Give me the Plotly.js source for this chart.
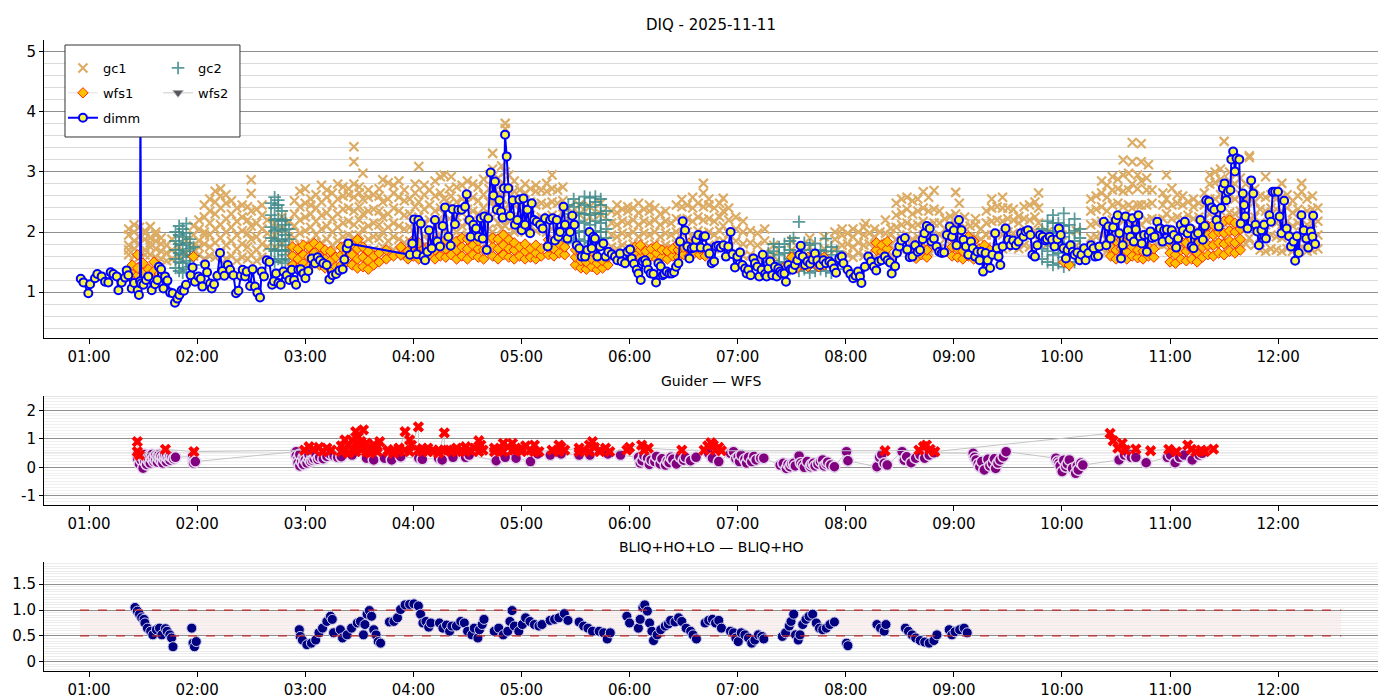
<!DOCTYPE html>
<html>
<head>
<meta charset="utf-8">
<script src="https://cdn.plot.ly/plotly-3.0.1.min.js"></script>
<style>
  body { margin: 0; background: #fff; }
  #myDiv { width: 1400px; height: 700px; }
</style>
</head>
<body>
<div id="myDiv"></div>
<script>
// night of 2025-11-11, times are minutes after 00:00
var DAY = '2025-11-11';

// DIQ top panel
var dimm = [[55.4,1.22],[56.9,1.16],[59.6,0.98],[60.6,1.13],[63.3,1.23],[64.6,1.30],[67.0,1.26],[68.9,1.17],[70.7,1.16],[72.0,1.33],
  [73.5,1.30],[75.4,1.26],[76.3,1.03],[78.1,1.16],[80.0,1.24],[80.9,1.36],[81.8,1.28],[83.7,1.06],[85.0,1.15],[87.0,1.03],
  [87.7,0.95],[88.3,1.18],[88.5,4.4],[88.9,1.14],[90.2,1.12],[91.6,1.20],[92.9,1.26],[94.8,1.03],[96.6,1.13],[97.9,1.20],
  [98.8,1.42],[100.0,1.38],[101.3,1.06],[102.2,1.26],[103.5,1.19],[105.0,0.99],[106.4,0.98],[107.7,0.82],[109.0,0.89],[110.1,0.95],
  [111.4,1.03],[112.7,1.02],[113.8,1.12],[116.4,1.28],[117.5,1.41],[118.8,1.17],[120.7,1.26],[122.0,1.22],[122.9,1.09],[124.4,1.46],
  [125.5,1.33],[127.2,1.14],[128.1,1.06],[129.4,1.13],[131.2,1.27],[132.7,1.65],[134.0,1.35],[135.1,1.27],[137.0,1.45],[138.3,1.37],
  [140.1,1.28],[141.6,0.98],[142.9,1.02],[144.2,1.27],[145.3,1.37],[146.6,1.26],[147.5,1.34],[149.4,1.10],[150.8,1.38],[152.1,1.09],
  [153.4,0.99],[154.9,0.91],[155.8,1.34],[157.1,1.26],[158.6,1.53],[160.1,1.50],[161.6,1.12],[162.5,1.18],[163.8,1.31],[165.1,1.15],
  [166.4,1.12],[167.9,1.34],[169.7,1.28],[171.2,1.20],[172.5,1.37],[173.8,1.20],[174.9,1.12],[176.2,1.37],[177.5,1.38],[179.0,1.31],
  [180.1,1.23],[181.7,1.35],[183.6,1.56],[185.4,1.48],[186.9,1.58],[188.2,1.53],[190.0,1.48],[191.9,1.45],[193.4,1.21],[195.2,1.28],
  [197.1,1.30],[198.9,1.36],[200.8,1.38],[201.7,1.54],[203.0,1.73],[203.9,1.81],[238.1,1.62],[239.4,1.81],[240.4,2.21],[241.9,1.63],
  [242.8,2.20],[244.1,2.14],[245.6,1.59],[246.5,1.53],[247.8,1.67],[248.7,2.03],[250.2,1.73],[252.0,2.20],[253.3,1.84],[254.8,1.76],
  [256.3,2.10],[257.6,2.41],[259.4,1.92],[260.7,1.77],[261.8,2.38],[263.1,2.13],[264.9,2.37],[266.8,2.37],[268.7,2.42],[269.6,2.63],
  [271.1,2.20],[271.8,1.92],[273.3,2.12],[274.8,2.06],[276.1,1.92],[277.4,2.23],[278.5,1.89],[279.4,2.26],[280.7,1.70],[281.6,2.23],
  [282.9,2.99],[284.4,2.61],[285.3,2.84],[286.3,2.37],[287.7,2.53],[288.7,2.34],[289.6,2.24],[290.3,2.73],[290.9,3.62],[291.8,3.26],
  [292.7,2.73],[293.7,2.27],[295.1,2.53],[296.4,2.12],[297.7,2.20],[298.8,2.54],[300.1,2.03],[301.1,2.56],[302.0,2.12],[303.3,2.37],
  [304.8,1.98],[305.7,2.48],[307.0,2.20],[308.5,2.17],[310.3,2.12],[311.8,2.06],[313.1,2.23],[314.6,1.76],[315.9,2.20],[317.3,2.23],
  [318.6,1.86],[319.6,2.20],[320.5,1.92],[321.4,2.00],[323.3,2.42],[324.2,2.12],[325.5,1.89],[327.0,2.00],[328.2,2.27],[329.4,2.12],
  [330.7,1.78],[332.1,1.73],[333.4,1.59],[335.3,1.59],[336.6,1.70],[337.7,2.00],[339.0,1.73],[339.9,1.92],[340.8,1.89],[342.1,1.59],
  [343.6,1.76],[345.4,1.81],[346.7,1.59],[348.2,1.67],[350.1,1.63],[351.9,1.59],[353.2,1.53],[354.7,1.64],[355.6,1.51],[357.5,1.48],
  [358.8,1.67],[360.3,1.71],[361.2,1.56],[362.5,1.47],[364.0,1.37],[364.9,1.31],[366.2,1.20],[367.3,1.51],[368.6,1.53],[369.5,1.48],
  [370.4,1.37],[371.7,1.31],[373.2,1.30],[374.7,1.16],[376.0,1.48],[377.3,1.43],[378.4,1.28],[379.3,1.30],[380.6,1.34],[382.1,1.31],
  [383.4,1.31],[384.7,1.33],[385.8,1.42],[387.1,1.48],[388.0,1.84],[389.5,2.18],[390.8,2.03],[392.1,1.76],[393.2,1.56],[394.5,1.73],
  [395.8,1.74],[396.9,1.87],[398.2,1.95],[399.5,1.74],[401.0,1.92],[401.9,1.93],[403.2,1.73],[404.3,1.64],[405.6,1.48],[406.9,1.51],
  [408.0,1.76],[409.3,1.77],[410.6,1.74],[412.1,1.78],[413.5,1.59],[414.8,1.76],[416.1,2.00],[417.2,1.63],[418.5,1.41],[419.8,1.59],
  [421.3,1.66],[422.6,1.45],[424.1,1.39],[425.0,1.31],[425.9,1.37],[427.2,1.28],[428.7,1.56],[429.6,1.48],[430.9,1.42],[432.0,1.26],
  [433.3,1.37],[433.9,1.62],[435.2,1.30],[436.1,1.26],[437.0,1.39],[438.0,1.51],[439.2,1.28],[440.7,1.42],[441.7,1.26],[442.6,1.39],
  [443.5,1.34],[444.4,1.31],[445.9,1.31],[446.8,1.17],[448.1,1.45],[449.4,1.38],[450.5,1.37],[451.8,1.45],[453.1,1.53],[454.2,1.62],
  [455.0,1.77],[456.1,1.59],[457.4,1.45],[458.7,1.51],[460.2,1.47],[461.6,1.54],[462.9,1.64],[464.2,1.53],[465.7,1.45],[467.6,1.53],
  [469.0,1.48],[470.9,1.51],[472.2,1.47],[473.5,1.39],[474.6,1.32],[476.4,1.56],[477.8,1.59],[478.7,1.48],[481.0,1.37],[482.5,1.30],
  [484.1,1.23],[485.4,1.27],[486.8,1.34],[487.9,1.26],[488.7,1.15],[490.6,1.42],[492.5,1.59],[494.0,1.51],[495.6,1.42],[496.9,1.36],
  [498.2,1.51],[499.8,1.53],[501.7,1.59],[503.2,1.53],[504.6,1.49],[505.5,1.31],[507.4,1.43],[508.4,1.65],[509.7,1.76],[510.9,1.86],
  [512.8,1.90],[514.1,1.71],[515.5,1.58],[517.0,1.59],[518.5,1.78],[519.9,1.67],[521.2,1.70],[522.7,1.88],[523.7,1.98],[525.0,2.10],
  [526.6,2.06],[527.5,1.84],[528.9,1.89],[530.4,1.76],[531.9,1.67],[533.3,1.65],[534.6,1.66],[536.1,1.95],[537.7,2.09],[539.0,1.92],
  [540.0,2.03],[541.5,1.78],[542.8,2.20],[544.2,2.03],[545.3,1.87],[546.7,1.76],[548.0,1.62],[549.5,1.84],[550.5,1.73],[551.8,1.59],
  [553.0,1.67],[554.3,1.53],[555.3,1.67],[556.2,1.34],[557.6,1.65],[558.7,1.53],[560.1,1.40],[561.4,1.62],[562.9,1.98],[563.9,1.73],
  [564.8,1.59],[565.8,1.45],[567.1,1.76],[568.7,2.06],[570.2,1.87],[571.5,1.78],[572.9,1.86],[574.4,1.78],[575.9,1.84],[577.3,1.98],
  [578.6,1.92],[579.8,2.01],[581.1,2.03],[582.5,1.95],[583.6,1.62],[585.0,1.59],[586.3,1.78],[587.8,1.95],[589.3,1.92],[590.7,1.86],
  [591.6,1.88],[593.2,1.92],[594.5,1.87],[595.9,1.76],[597.4,1.88],[598.3,2.06],[599.3,1.95],[600.8,1.73],[602.2,1.56],[603.1,1.70],
  [604.7,1.78],[606.0,1.67],[607.0,1.62],[608.5,1.66],[609.8,1.53],[610.8,1.62],[612.3,1.73],[613.1,1.53],[614.6,1.65],[616.1,1.78],
  [617.5,1.73],[618.4,1.59],[620.0,1.60],[620.7,1.76],[623.2,2.17],[624.6,1.78],[625.7,2.09],[627.0,1.89],[628.4,2.08],[629.9,2.20],
  [630.9,2.28],[631.8,1.98],[632.8,1.56],[633.7,1.78],[635.3,2.26],[636.6,2.03],[638.0,1.92],[639.1,2.23],[639.9,1.84],[641.0,2.04],
  [642.4,2.28],[643.3,1.92],[644.3,1.81],[645.6,1.95],[647.1,1.67],[648.1,1.95],[649.1,2.01],[650.0,1.90],[651.4,1.92],[652.9,2.17],
  [654.4,2.06],[655.8,1.84],[656.7,2.03],[658.2,2.04],[659.6,1.87],[660.9,2.03],[662.1,1.95],[663.4,1.74],[664.4,1.89],[665.9,2.12],
  [667.2,2.03],[668.2,2.17],[669.7,1.98],[671.1,2.06],[672.0,1.76],[673.0,1.73],[673.9,1.95],[675.5,1.98],[676.8,2.20],[678.2,1.87],
  [679.3,2.10],[680.1,2.53],[681.6,2.51],[683.1,2.41],[684.5,2.37],[685.8,2.20],[687.0,2.09],[688.3,2.40],[689.3,2.73],[690.2,2.81],
  [691.2,2.53],[692.1,2.67],[693.5,2.70],[694.0,3.21],[695.0,3.34],[696.0,3.01],[696.9,3.23],[698.4,3.21],[699.2,2.14],[700.4,2.64],
  [701.1,2.45],[701.7,2.26],[703.0,2.06],[705.0,2.86],[706.1,2.64],[707.4,2.12],[708.4,2.01],[709.3,1.78],[710.7,2.03],[712.2,2.12],
  [713.2,1.89],[715.1,2.28],[716.0,2.17],[717.0,2.67],[718.3,2.67],[719.9,2.67],[720.8,2.26],[721.8,1.98],[723.3,2.52],[724.7,2.06],
  [726.0,1.93],[727.1,1.76],[728.5,1.84],[729.4,1.52],[730.4,1.93],[731.4,1.65],[732.9,2.28],[734.2,2.03],[735.6,1.89],[736.7,1.74],
  [738.1,2.01],[739.0,1.92],[739.4,2.27],[740.5,1.80]];

// guide camera 1, per sample time the values seen
var gc1 = [[82,[1.62,1.78,1.95,2.05,1.70]],[85,[1.60,1.85,2.00,1.72,2.12]],[88,[1.65,1.80,1.92,2.08,1.58]],[91,[1.70,1.88,1.98,1.62,2.02]],
  [94,[1.62,1.75,1.90,2.09,1.82]],[97,[1.58,1.72,1.85,2.00,1.95]],[100,[1.55,1.68,1.80,1.90]],[103,[1.52,1.65,1.78]],[106,[1.55,1.70,1.88]],
  [110,[1.60,1.75]],[114,[1.65,1.85]],[118,[1.60,1.78,1.95,2.10]],[121,[1.62,1.85,2.05,2.20,1.75]],[124,[1.55,1.80,2.00,2.25,2.45,1.95]],
  [127,[1.60,1.75,1.95,2.15,2.35,2.55]],[130,[1.58,1.82,2.05,2.30,2.50,2.68]],[133,[1.65,1.90,2.12,2.40,2.60,2.72]],[136,[1.55,1.78,2.00,2.22,2.48,2.62]],
  [139,[1.60,1.85,2.08,2.30,2.52]],[142,[1.52,1.72,1.95,2.18,2.40]],[145,[1.58,1.80,2.02,2.25,2.45]],[148,[1.55,1.75,1.98,2.20,2.42]],
  [150,[1.62,1.88,2.10,2.35,2.64,2.87]],[153,[1.52,1.70,1.92,2.15,2.38]],[156,[1.58,1.80,2.05,2.28,2.45]],[159,[1.55,1.75,1.98,2.20]],
  [163,[1.75,1.95,2.15]],[167,[1.80,2.05,2.25]],[171,[1.70,1.92,2.18]],[174,[1.55,1.72,1.90,2.10,2.30,2.52]],[177,[1.60,1.78,1.98,2.20,2.42,2.68]],
  [180,[1.58,1.80,2.02,2.25,2.48,2.72]],[183,[1.62,1.85,2.08,2.30,2.55,2.45]],[186,[1.55,1.75,1.95,2.18,2.40,2.62]],[189,[1.60,1.82,2.05,2.28,2.50,2.78]],
  [192,[1.65,1.88,2.10,2.32,2.58,2.70]],[195,[1.58,1.78,2.00,2.22,2.45,2.65]],[198,[1.62,1.85,2.08,2.30,2.55,2.80]],[201,[1.70,1.92,2.15,2.38,2.60,2.75]],
  [204,[1.75,1.95,2.18,2.40,2.62,2.72]],[207,[1.68,1.90,2.12,2.35,2.58,2.80,3.42,3.17]],[210,[1.72,1.95,2.20,2.42,2.65,2.75]],[212,[1.80,2.05,2.30,2.55,2.98]],
  [215,[1.65,1.88,2.10,2.35,2.58,2.70]],[218,[1.70,1.92,2.15,2.38,2.62]],[221,[1.68,1.90,2.12,2.35,2.60,2.72]],[223,[1.75,2.00,2.25,2.50,2.87]],
  [226,[1.65,1.85,2.08,2.30,2.55,2.82]],[229,[1.70,1.92,2.15,2.40,2.65,2.78]],[232,[1.68,1.88,2.10,2.35,2.58,2.85]],[235,[1.60,1.82,2.05,2.28,2.52,2.70]],
  [238,[1.65,1.85,2.08,2.30,2.55]],[241,[1.72,1.95,2.18,2.42,2.65,2.80]],[243,[1.80,2.02,2.25,2.50,3.09]],[246,[1.70,1.92,2.15,2.38,2.62,2.78]],
  [249,[1.75,1.98,2.20,2.45,2.70]],[252,[1.68,1.90,2.12,2.35,2.60,2.85]],[255,[1.72,1.95,2.18,2.40,2.65,2.92]],[257,[1.80,2.05,2.30,2.55,2.95]],
  [260,[1.75,1.98,2.22,2.48,2.72]],[261,[2.92,2.60]],[264,[1.78,2.00,2.25,2.50,2.75]],[267,[1.90,2.10,2.32,2.55,2.78]],[270,[1.95,2.15,2.38,2.60,2.85]],
  [273,[1.92,2.12,2.35,2.58,2.80]],[276,[1.90,2.10,2.30,2.52,2.75]],[279,[1.95,2.18,2.40,2.62,2.88]],[282,[1.85,2.05,2.28,2.50,2.72,2.95]],
  [284,[2.00,2.25,2.50,2.75,3.05,3.31]],[287,[1.90,2.15,2.40,2.65,2.90]],[289,[2.05,2.30,2.55,2.80,3.10]],[291,[2.10,2.40,2.70,3.00,3.81,3.72]],
  [293,[1.95,2.20,2.45,2.70,2.95]],[296,[2.00,2.22,2.45,2.68,2.85]],[299,[2.05,2.25,2.48,2.70]],[302,[2.00,2.20,2.42,2.65,2.80]],
  [305,[2.08,2.28,2.50,2.72]],[308,[2.02,2.22,2.45,2.68,2.78]],[311,[2.05,2.25,2.48,2.70]],[314,[2.00,2.22,2.45,2.68,2.81]],
  [317,[2.05,2.28,2.50,2.72,2.95]],[320,[2.02,2.25,2.48,2.70]],[323,[2.10,2.30,2.52,2.75]],[326,[2.20,2.40]],[332,[2.30,2.45]],
  [338,[2.25,2.42]],[344,[2.30,2.48]],[350,[1.75,1.95,2.15,2.35]],[353,[1.72,1.92,2.12,2.32,2.45]],[356,[1.78,1.98,2.18,2.38]],
  [359,[1.75,1.95,2.15,2.35,2.42]],[362,[1.80,2.00,2.20,2.40]],[365,[1.72,1.92,2.12,2.32,2.48]],[368,[1.78,1.98,2.18,2.38]],
  [371,[1.75,1.95,2.15,2.35,2.45]],[374,[1.80,2.00,2.20,2.40]],[377,[1.72,1.92,2.12,2.30]],[380,[1.78,1.98,2.18,2.35]],[383,[1.75,1.95,2.15]],
  [386,[1.80,2.00,2.22,2.45]],[389,[1.75,1.98,2.20,2.42,2.54]],[392,[1.78,2.00,2.22,2.45]],[395,[1.72,1.95,2.18,2.40,2.58]],
  [398,[1.80,2.02,2.25,2.48]],[401,[1.75,1.98,2.20,2.42,2.65,2.81]],[404,[1.78,2.00,2.22,2.45,2.55]],[407,[1.72,1.95,2.18,2.40]],
  [410,[1.80,2.02,2.25,2.48]],[412,[1.85,2.10,2.35,2.56]],[415,[1.75,1.98,2.20,2.40]],[419,[1.65,1.85,2.05,2.25]],[423,[1.60,1.80,2.00,2.18]],
  [427,[1.62,1.82,2.02]],[431,[1.58,1.78,1.98]],[435,[1.65,1.85,2.05]],[440,[1.60,1.78]],[450,[1.70,1.85]],[460,[1.75,1.90]],
  [468,[1.72,1.92]],[474,[1.70,1.88,2.00]],[478,[1.60,1.78,1.95,2.05]],[481,[1.62,1.80,1.98]],[484,[1.58,1.75,1.92,2.05]],
  [487,[1.65,1.82,2.00]],[490,[1.60,1.78,1.95,2.08]],[491,[2.14]],[493,[1.62,1.80,1.98]],[496,[1.58,1.75,1.92,2.05]],[499,[1.65,1.82,2.00]],
  [502,[1.60,1.80,1.98,2.20]],[505,[1.62,1.78,1.95,2.06]],[508,[1.68,1.88,2.08,2.28,2.48]],[511,[1.70,1.90,2.12,2.32,2.55]],
  [514,[1.72,1.95,2.15,2.38,2.58]],[517,[1.68,1.88,2.10,2.30,2.52]],[520,[1.70,1.92,2.12,2.35,2.55]],[523,[1.72,1.95,2.18,2.40,2.67]],
  [526,[1.68,1.90,2.12,2.35,2.58]],[529,[1.70,1.92,2.15,2.38,2.69]],[532,[1.72,1.95,2.15,2.35]],[535,[1.68,1.88,2.05,2.22]],
  [538,[1.70,1.90,2.10,2.26]],[541,[1.72,1.92,2.12,2.30,2.66]],[543,[1.80,2.05,2.48]],[546,[1.68,1.88,2.08,2.25]],[549,[1.70,1.90,2.10]],
  [552,[1.72,1.92,2.12,2.22]],[555,[1.68,1.88,2.05]],[558,[1.75,1.95,2.15,2.35]],[561,[1.72,1.95,2.18,2.40,2.55]],[564,[1.75,1.98,2.20,2.42]],
  [567,[1.72,1.95,2.18,2.40,2.58]],[570,[1.78,2.00,2.22,2.40]],[573,[1.75,1.98,2.20,2.38]],[576,[1.72,1.95,2.15,2.26]],
  [579,[1.78,2.00,2.22,2.42]],[582,[1.75,1.98,2.20,2.45]],[585,[1.78,2.02,2.25,2.50]],[587,[1.85,2.15,2.40,2.65]],[592,[1.80,2.00]],
  [600,[1.75,1.95]],[608,[1.78,2.02]],[616,[1.68,1.90,2.12,2.35,2.55]],[619,[1.70,1.92,2.15,2.38,2.60]],[622,[1.72,1.95,2.18,2.42,2.65,2.85]],
  [625,[1.68,1.90,2.12,2.35,2.58,2.78]],[628,[1.72,1.95,2.20,2.45,2.70,2.92]],[631,[1.75,1.98,2.22,2.48,2.72,2.88]],
  [634,[1.70,1.92,2.18,2.42,2.68,2.95,3.20]],[637,[1.72,1.95,2.20,2.45,2.70,2.98]],[639,[1.80,2.10,2.40,2.80,3.17,3.49]],
  [642,[1.70,1.95,2.20,2.45,2.72,2.95]],[644,[1.82,2.12,2.45,2.85,3.17,3.47]],[647,[1.72,1.95,2.20,2.45,2.70,2.90]],[648,[3.12]],
  [650,[1.75,1.98,2.22,2.48,2.70]],[653,[1.80,2.00,2.20]],[656,[1.78,2.00,2.22,2.45,2.65]],[658,[1.80,2.05,2.30,2.55,2.95]],
  [661,[1.78,2.00,2.22,2.45,2.73]],[664,[1.80,2.02,2.25,2.48,2.62]],[667,[1.78,2.00,2.22,2.45,2.60]],[670,[1.82,2.05,2.28,2.50]],
  [673,[1.78,2.00,2.22,2.42,2.55]],[676,[1.80,2.02,2.25,2.48]],[679,[1.78,2.00,2.22,2.45,2.65]],[682,[1.80,2.05,2.30,2.55,2.80,2.95]],
  [685,[1.78,2.02,2.28,2.55,2.82,3.00]],[688,[1.82,2.08,2.35,2.62,2.88,3.05]],[690,[1.90,2.20,2.50,2.80,3.51]],[693,[1.80,2.05,2.32,2.60,2.85,3.00]],
  [696,[1.78,2.02,2.30,2.55,2.80,2.98]],[699,[1.82,2.08,2.35,2.62,2.90]],[702,[1.80,2.05,2.30,2.55,2.80]],[704,[1.90,2.20,2.55,3.27,3.24]],
  [707,[1.78,2.00,2.25,2.50,2.72]],[710,[1.70,1.92,2.15,2.38,2.60]],[713,[1.68,1.90,2.12,2.35,2.58,2.92]],[716,[1.72,1.95,2.18,2.40,2.62]],
  [719,[1.70,1.92,2.15,2.38,2.55]],[722,[1.68,1.90,2.12,2.35,2.58,2.81]],[725,[1.72,1.95,2.18,2.40,2.62]],[728,[1.68,1.88,2.10,2.32,2.52]],
  [731,[1.70,1.92,2.15,2.38,2.60]],[733,[1.75,2.00,2.30,2.81,2.67]],[736,[1.68,1.90,2.12,2.35,2.55]],[739,[1.70,1.92,2.15,2.38,2.60]],
  [742,[1.72,1.95,2.18,2.40]]];

var gc2 = [[108,[1.40,1.55,1.70,1.85,2.00]],[110,[1.35,1.50,1.65,1.80,1.95,2.10]],[112,[1.32,1.48,1.62,1.78,1.92,2.05]],
  [114,[1.38,1.52,1.68,1.82,1.98,2.14]],[116,[1.42,1.58,1.72,1.88]],[118,[1.45,1.60,1.75]],
  [161,[1.55,1.72,1.90,2.08,2.28,2.48]],[163,[1.50,1.68,1.85,2.02,2.20,2.40,2.58]],[165,[1.55,1.70,1.88,2.05,2.22,2.45,2.53]],
  [167,[1.52,1.68,1.85,2.02,2.18,2.35]],[169,[1.48,1.62,1.78,1.95,2.12,2.20]],[171,[1.55,1.70,1.88,2.05]],
  [326,[1.85,2.00,2.15,2.30,2.45]],[329,[1.82,1.98,2.12,2.28,2.42,2.55]],[332,[1.88,2.02,2.18,2.32,2.48]],
  [335,[1.85,2.00,2.15,2.30,2.45,2.59]],[338,[1.82,1.98,2.12,2.28,2.42,2.57]],[341,[1.88,2.02,2.18,2.32,2.50,2.59]],
  [344,[1.85,2.00,2.15,2.30,2.45,2.55]],[347,[1.90,2.05,2.20,2.35]],
  [437,[1.35,1.50,1.65]],[440,[1.38,1.52,1.68,1.80]],[443,[1.32,1.48,1.62,1.75]],[446,[1.35,1.50,1.65,1.80]],[449,[1.38,1.55,1.70,1.85]],
  [451,[1.42,1.60,1.90]],[454,[1.35,1.50,1.65,2.17]],[457,[1.38,1.55,1.70,1.82]],[460,[1.32,1.48,1.62,1.78]],[463,[1.35,1.50,1.65,1.81]],
  [466,[1.38,1.55,1.70]],[469,[1.35,1.52,1.68,1.89]],[472,[1.32,1.48,1.62,1.75]],[475,[1.38,1.52,1.68]],
  [589,[1.55,1.72,1.90,2.05]],[592,[1.50,1.68,1.85,2.02,2.18]],[595,[1.45,1.62,1.80,1.98,2.15,2.28]],[598,[1.48,1.65,1.82,2.00,2.15]],
  [601,[1.42,1.58,1.75,1.92,2.10,2.31]],[604,[1.45,1.62,1.80,1.98,2.12]],[607,[1.50,1.68,1.85,2.02,2.22]],[610,[1.55,1.72,1.90,2.05]]];

var wfs1 = [[84,[1.30,1.45]],[87,[1.28,1.40,1.62]],[90,[1.32,1.48]],[93,[1.26,1.38]],[96,[1.35,1.50]],[99,[1.30,1.42]],[118,[1.59]],
  [173,[1.45,1.60,1.75]],[176,[1.40,1.55,1.72]],[179,[1.48,1.62,1.78]],[182,[1.42,1.58,1.75]],[185,[1.50,1.65,1.81]],[188,[1.45,1.60,1.76]],
  [191,[1.40,1.55,1.70]],[194,[1.38,1.52,1.68]],[197,[1.42,1.58]],[200,[1.45,1.62,1.75]],[203,[1.50,1.65,1.80]],[206,[1.45,1.62,1.80]],
  [209,[1.40,1.55,1.72,1.87]],[212,[1.42,1.58,1.75]],[215,[1.38,1.52,1.68]],[218,[1.45,1.60]],[221,[1.50,1.65]],[225,[1.55,1.70]],
  [229,[1.60]],[233,[1.62,1.75]],[237,[1.55,1.68]],[240,[1.60,1.75,1.87]],[243,[1.55,1.70,1.82]],[246,[1.58,1.72]],[249,[1.62,1.78]],
  [252,[1.55,1.70,1.85]],[255,[1.60,1.75]],[258,[1.58,1.72,1.87]],[261,[1.62,1.78]],[264,[1.55,1.70,1.85]],[267,[1.60,1.75,1.90]],
  [270,[1.55,1.72,1.88]],[273,[1.62,1.78,1.95]],[276,[1.58,1.72,1.85]],[279,[1.55,1.70]],[284,[1.60,1.75,1.90]],[287,[1.55,1.72,1.88]],
  [290,[1.62,1.78,1.95]],[293,[1.58,1.72,1.87]],[296,[1.55,1.70,1.82]],[299,[1.60,1.75]],[302,[1.55,1.68,1.80]],[305,[1.58,1.72]],
  [308,[1.55,1.65,1.78]],[311,[1.60,1.72]],[315,[1.62,1.75,1.87]],[318,[1.60,1.72]],[321,[1.65,1.80]],[324,[1.62,1.75]],
  [330,[1.45,1.58,1.70]],[333,[1.40,1.52,1.65]],[336,[1.38,1.50,1.62]],[339,[1.42,1.55,1.68]],[342,[1.37,1.48,1.60]],[345,[1.40,1.52]],
  [348,[1.45,1.58]],[363,[1.55,1.65,1.75]],[366,[1.58,1.70,1.78]],[369,[1.55,1.68]],[372,[1.60,1.72]],[375,[1.55,1.65,1.76]],
  [378,[1.58,1.70]],[381,[1.55,1.68]],[384,[1.60,1.72]],[387,[1.58,1.70,1.80]],[390,[1.62,1.75]],[393,[1.60,1.72,1.81]],[396,[1.65,1.78]],
  [399,[1.62,1.72]],[402,[1.60]],[430,[1.45]],[438,[1.40,1.52]],[446,[1.42]],[450,[1.45,1.58]],[453,[1.40,1.52]],[456,[1.45,1.55]],
  [459,[1.42,1.58]],[462,[1.48,1.59]],[465,[1.42,1.55]],[468,[1.45,1.58]],[471,[1.50]],[497,[1.70,1.82]],[500,[1.67,1.78]],
  [503,[1.72,1.84]],[516,[1.60,1.72]],[519,[1.56,1.68,1.78]],[522,[1.62,1.75]],[525,[1.58,1.70]],[539,[1.60,1.75,1.90]],
  [542,[1.58,1.72,1.85]],[545,[1.55,1.68,1.82]],[548,[1.60,1.75,1.92]],[551,[1.55,1.70,1.85]],[554,[1.58,1.72]],[557,[1.53,1.65,1.78]],
  [560,[1.58,1.70]],[601,[1.50]],[604,[1.45]],[627,[1.60,1.75]],[630,[1.55,1.70,1.85]],[633,[1.58,1.72,1.87]],[636,[1.55,1.68,1.80]],
  [639,[1.60,1.75]],[642,[1.57,1.70,1.84]],[645,[1.55,1.68]],[648,[1.60,1.75]],[651,[1.58,1.72]],[660,[1.50,1.65,1.80]],
  [663,[1.48,1.62,1.78,1.92]],[666,[1.55,1.70,1.85]],[669,[1.52,1.68,1.82,1.98]],[672,[1.55,1.72,1.88]],[675,[1.50,1.65,1.80,1.95]],
  [678,[1.58,1.75,1.90,2.05]],[681,[1.62,1.78,1.95,2.10]],[684,[1.60,1.78,1.95,2.12]],[687,[1.65,1.82,2.00,2.15]],[690,[1.62,1.80,1.98,2.18]],
  [693,[1.68,1.85,2.02,2.20]],[696,[1.65,1.82,2.00,2.15]],[699,[1.70,1.88,2.05]]];

// wfs2 has no samples this night, only its legend entry is drawn
var wfs2 = [[null, [null]]];

// Guider / WFS middle panel
var guider = [[87,0.45],[87,0.30],[88,0.12],[88,0.38],[89,0.25],[89,0.42],[90,-0.03],[90,0.35],[91,0.20],[91,0.45],[92,0.10],[92,0.32],
  [93,0.40],[93,0.22],[94,0.15],[94,0.38],[95,0.30],[95,0.45],[96,0.20],[96,0.35],[97,0.42],[97,0.25],[98,0.18],[98,0.38],[99,0.30],
  [99,0.45],[100,0.22],[100,0.40],[101,0.35],[101,0.15],[102,0.28],[102,0.42],[103,0.20],[103,0.38],[104,0.32],[105,0.25],[105,0.40],
  [106,0.36],[107,0.30],[108,0.35],[117.5,0.38],[118,0.25],[118,0.15],[119,0.20],
  [175,0.55],[175,0.40],[176,0.30],[176,0.15],[177,0.45],[177,0.05],[178,0.20],[179,0.35],[179,0.10],[180,0.42],[180,0.25],[181,0.15],
  [182,0.30],[182,0.45],[183,0.20],[184,0.38],[184,0.25],[185,0.30],[186,0.42],[187,0.28],[188,0.35],[190,0.30],[192,0.38],[194,0.45],
  [196,0.40],[198,0.35],[200,0.37],[206,0.43],[214,0.32],[218,0.26],[224,0.32],[228,0.26],[233,0.37],[243,0.32],[245,0.28],[254,0.32],
  [256,0.26],[262,0.35],[269,0.35],[271,0.43],[286,0.23],[291,0.35],[297,0.32],[305,0.20],[309,0.47],[316,0.43],[322,0.47],[332,0.43],
  [338,0.43],[348,0.47],[355,0.43],[365,0.35],[366,0.15],[367,0.23],[368,0.40],[370,0.32],[371,0.10],[372,0.25],[374,0.20],[375,0.38],
  [377,0.12],[378,0.30],[380,0.08],[381,0.22],[382,0.16],[383,0.35],[384,0.28],[386,0.12],[388,0.37],[390,0.25],[391,0.35],
  [393.9,0.23],[396.9,0.35],[403.9,0.49],[406,0.32],[409.5,0.20],[416,0.49],[417.7,0.55],[419,0.30],[420.3,0.37],[421,0.20],[422,0.43],
  [424,0.28],[425,0.15],[426,0.35],[427.8,0.20],[429,0.38],[430.3,0.26],[432.8,0.32],[434.5,0.32],[443.6,0.08],[445.3,0.14],[447.1,-0.04],
  [448,0.10],[449.1,0.02],[450,0.12],[451.1,0.14],[452,0.05],[454.1,0.40],[455,0.15],[456.1,0.08],[457,0.00],[458.6,0.20],[460.4,0.02],
  [461,0.10],[462.1,0.14],[463,0.05],[464.6,0.12],[466,0.20],[467.2,0.26],[468,0.05],[469.2,0.12],[470,0.18],[471.7,0.08],[473.7,0.02],
  [480.4,0.55],[481.2,0.23],[497.3,0.02],[498.8,0.35],[500,0.45],[501.3,0.14],[503,0.08],[511.3,0.55],[512.5,0.25],[513.8,0.37],
  [516.3,0.16],[518.8,0.32],[521.3,0.43],[523.8,0.32],[526.3,0.43],[528.9,0.51],[550.7,0.49],[551.5,0.35],[552.4,0.26],[553.5,0.12],
  [554.4,0.02],[555.5,0.20],[556.9,-0.09],[558.9,0.28],[560,0.05],[561.5,0.14],[562.5,0.30],[563.2,-0.04],[564.5,0.15],[565.7,0.26],
  [567.5,0.37],[569,0.55],[596.6,0.32],[597.5,0.20],[598.3,0.14],[599,0.05],[600.1,-0.15],[601,0.25],[602.1,0.02],[603,0.12],[604.1,0.26],
  [605.9,-0.04],[607.6,-0.21],[608.5,0.05],[609.1,-0.09],[610.5,0.15],[611.6,0.08],[631.7,0.26],[634.7,0.43],[636.7,0.49],[638.5,0.35],
  [641,0.35],[646.7,0.16],[658.5,0.35],[660.3,0.43],[662.8,0.16],[665.3,0.35],[667.8,0.43],[672.3,0.26],[676.1,0.43],[677.8,0.49]];

var wfs = [[86.8,0.90],[86.8,0.55],[88,0.43],[102.4,0.63],[118.2,0.55],
  [179.6,0.60],[182.1,0.72],[184.6,0.63],[187.6,0.70],[189.6,0.55],[192,0.67],[194.5,0.60],
  [200,0.55],[200,0.75],[202,0.96],[202,0.60],[204,0.50],[204,0.80],[206,0.65],[206,0.95],[208,1.25],[208,0.55],[208,0.85],[209.4,1.07],
  [209.4,0.70],[211,0.60],[211,0.90],[212.3,1.31],[212.3,0.75],[214,0.55],[214,0.85],[216,0.70],[216,0.50],[218,0.80],[218,0.60],
  [220,0.55],[220,0.70],[221.3,0.90],
  [226,0.60],[226,0.55],[229,0.50],[229,0.62],[232,0.67],[232,0.55],[235.4,1.25],[235.4,0.60],[237.9,0.96],[237.9,0.55],[239,0.78],
  [242.8,1.42],[242.8,0.60],[245,0.55],[245,0.65],[248,0.67],[248,0.55],[251,0.55],[251,0.60],[254,0.60],[254,0.50],[257.2,1.21],
  [257.2,0.60],[259,0.60],[261,0.55],
  [264,0.67],[264,0.55],[266.5,0.60],[269,0.72],[269,0.55],[271.5,0.60],[274,0.67],[276.3,0.93],[276.3,0.55],[277.5,0.78],[278.7,0.60],
  [285,0.67],[285,0.55],[287.5,0.60],[289.9,0.84],[289.9,0.55],[292.4,0.72],[295,0.84],[295,0.60],[296,0.60],[300,0.67],[300,0.55],
  [302.3,0.75],[305,0.60],[307.2,0.78],[307.2,0.55],[309.7,0.55],
  [317,0.60],[320.8,0.78],[320.8,0.55],[322,0.70],[324,0.60],
  [332,0.67],[332,0.55],[334.5,0.60],[337.7,0.78],[337.7,0.55],[339.4,0.90],[340.5,0.70],[343.5,0.60],[343.5,0.55],[346.7,0.67],[349,0.55],
  [358.5,0.60],[360,0.70],[366.7,0.78],[368,0.60],[370.4,0.67],[389,0.60],
  [401.4,0.60],[403.4,0.75],[405.2,0.86],[406.5,0.78],[407.7,0.60],[409.5,0.70],[411,0.58],[501.8,0.58],
  [520.6,0.60],[523.1,0.72],[524.8,0.78],[526.8,0.63],[529.4,0.55],
  [626.7,1.19],[628.4,0.93],[631,0.67],[633.4,0.84],[635.2,0.60],[641,0.64],[649.2,0.58],[659.3,0.63],[663.5,0.55],[669.8,0.78],
  [671.8,0.63],[674.3,0.55],[677.3,0.60],[679.3,0.55],[684.1,0.64]];

// BLIQ+HO+LO / BLIQ+HO ratio, bottom panel
var ratio = [[85.5,1.05],[86.8,0.98],[88.0,0.92],[89.2,0.85],[90.5,0.82],[91.0,0.75],[92.4,0.65],[94.2,0.59],[95.4,0.52],[97.4,0.62],
  [99.1,0.65],[100.4,0.52],[102.4,0.64],[103.3,0.59],[104.8,0.52],[105.8,0.46],[106.6,0.29],[117.0,0.65],[117.7,0.36],[118.5,0.29],
  [119.5,0.39],[176.7,0.62],[177.2,0.49],[178.4,0.42],[180.9,0.33],[183.4,0.36],[185.8,0.42],[187.6,0.56],[189.6,0.65],[192.0,0.78],
  [194.0,0.88],[195.0,0.82],[195.7,0.56],[199.5,0.62],[200.7,0.46],[203.2,0.52],[205.7,0.65],[208.9,0.75],[210.6,0.78],[212.3,0.52],
  [213.1,0.72],[214.3,0.92],[215.6,0.99],[216.8,0.88],[218.0,0.62],[219.3,0.52],[220.5,0.39],[221.8,0.36],[226.7,0.77],[229.2,0.78],
  [231.2,0.85],[232.9,1.01],[235.4,1.10],[237.9,1.11],[240.3,1.12],[242.8,1.08],[244.0,0.92],[245.3,0.75],[247.0,0.78],[248.5,0.67],
  [249.7,0.75],[254.5,0.75],[256.4,0.65],[258.4,0.71],[260.1,0.59],[261.4,0.69],[263.9,0.69],[266.3,0.78],[268.3,0.75],[270.1,0.59],
  [272.5,0.52],[273.8,0.65],[275.8,0.46],[276.7,0.62],[278.2,0.72],[279.2,0.82],[284.9,0.59],[287.4,0.65],[289.9,0.52],[292.4,0.59],
  [293.6,0.78],[294.8,0.99],[296.1,0.69],[298.5,0.59],[300.5,0.72],[302.3,0.85],[304.7,0.78],[307.2,0.72],[309.7,0.69],[311.4,0.72],
  [315.9,0.80],[318.4,0.82],[320.8,0.85],[323.8,0.93],[325.8,0.80],[332.0,0.77],[334.5,0.69],[336.9,0.65],[339.4,0.59],[343.1,0.59],
  [345.6,0.56],[347.6,0.44],[349.3,0.56],[358.5,0.88],[360.0,0.75],[364.9,0.65],[365.9,0.82],[367.4,1.05],[368.4,1.10],[369.9,0.98],
  [371.1,0.75],[372.4,0.59],[373.3,0.41],[375.3,0.52],[377.3,0.62],[379.8,0.69],[381.5,0.73],[382.8,0.80],[385.2,0.77],[387.2,0.85],
  [389.0,0.78],[391.4,0.65],[393.9,0.59],[395.2,0.52],[397.1,0.44],[401.9,0.75],[403.9,0.80],[406.0,0.82],[407.7,0.75],[409.5,0.80],
  [411.0,0.65],[416.0,0.59],[417.7,0.56],[419.0,0.46],[420.3,0.39],[422.0,0.56],[424.0,0.52],[426.0,0.46],[427.8,0.36],[429.5,0.42],
  [431.5,0.52],[433.5,0.49],[434.5,0.44],[444.8,0.49],[446.6,0.56],[448.6,0.69],[449.6,0.78],[451.1,0.92],[452.1,0.52],[453.6,0.42],
  [454.6,0.52],[456.1,0.72],[457.9,0.82],[459.6,0.88],[461.6,0.92],[463.6,0.75],[465.4,0.65],[467.2,0.62],[469.2,0.65],[471.2,0.72],
  [473.7,0.77],[480.4,0.36],[481.2,0.31],[497.3,0.72],[499.3,0.65],[501.3,0.59],[502.3,0.72],[513.1,0.65],[514.8,0.59],[516.8,0.52],
  [518.8,0.46],[521.3,0.41],[523.8,0.38],[526.3,0.36],[528.9,0.41],[530.6,0.52],[537.4,0.62],[538.9,0.52],[540.6,0.58],[543.2,0.62],
  [545.7,0.65],[547.4,0.56]];

var ratioLow = 0.5, ratioHigh = 1.0;
var bandFrom = 55, bandTo = 755;

var topTicks = [1, 2, 3, 4, 5];
var midTicks = [-1, 0, 1, 2], midLabels = ['-1', '0', '1', '2'];
var lowTicks = [0, 0.5, 1, 1.5], lowLabels = ['0', '0.5', '1.0', '1.5'];

function clock(m) {
  if (m === null) return null;
  var s = Math.round(m * 60);
  var h = Math.floor(s / 3600), mi = Math.floor((s % 3600) / 60), se = s % 60;
  function p(n) { return (n < 10 ? '0' : '') + n; }
  return DAY + ' ' + p(h) + ':' + p(mi) + ':' + p(se);
}
function fromPairs(list) {
  return { x: list.map(function (d) { return clock(d[0]); }), y: list.map(function (d) { return d[1]; }) };
}
function fromGroups(list) {
  var x = [], y = [];
  list.forEach(function (g) { g[1].forEach(function (v) { x.push(clock(g[0])); y.push(v); }); });
  return { x: x, y: y };
}

var F = 'DejaVu Sans';
var g1 = fromGroups(gc1), g2 = fromGroups(gc2), w1 = fromGroups(wfs1), w2 = fromGroups(wfs2), dm = fromPairs(dimm);
var gd = fromPairs(guider), wf = fromPairs(wfs), rt = fromPairs(ratio);

var data = [
  { x: g1.x, y: g1.y, name: 'gc1', mode: 'markers', type: 'scatter', legend: 'legend', legendgroup: 'a',
    marker: { symbol: 'x-thin', size: 9, color: '#dcac64', line: { color: '#dcac64', width: 2.2 } } },
  { x: g2.x, y: g2.y, name: 'gc2', mode: 'markers', type: 'scatter', legend: 'legend2', legendgroup: 'b',
    marker: { symbol: 'cross-thin', size: 9, color: 'rgba(62,138,138,0.85)', line: { color: 'rgba(62,138,138,0.85)', width: 1.8 } } },
  { x: w1.x, y: w1.y, name: 'wfs1', mode: 'lines+markers', type: 'scatter', legend: 'legend', legendgroup: 'c',
    line: { color: 'rgba(170,170,170,0.35)', width: 1 },
    marker: { symbol: 'diamond', size: 8, color: '#ffc000', line: { color: '#ff2a00', width: 1 } } },
  { x: w2.x, y: w2.y, name: 'wfs2', mode: 'lines+markers', type: 'scatter', legend: 'legend2', legendgroup: 'd',
    line: { color: 'rgba(170,170,170,0.6)', width: 1 },
    marker: { symbol: 'triangle-down', size: 9, color: '#555560', line: { color: '#aaaaaa', width: 1 } } },
  { x: dm.x, y: dm.y, name: 'dimm', mode: 'lines+markers', type: 'scatter', legend: 'legend', legendgroup: 'e',
    line: { color: '#0000ff', width: 2 },
    marker: { symbol: 'circle', size: 8, color: '#f5f542', line: { color: '#0000ff', width: 2 } } },

  { x: gd.x, y: gd.y, name: 'Guider', mode: 'lines+markers', type: 'scatter', xaxis: 'x2', yaxis: 'y2', showlegend: false,
    line: { color: '#c4c4c4', width: 1 },
    marker: { symbol: 'circle', size: 11, color: '#800080', line: { color: '#e4d4ec', width: 1.5 } } },
  { x: wf.x, y: wf.y, name: 'WFS', mode: 'lines+markers', type: 'scatter', xaxis: 'x2', yaxis: 'y2', showlegend: false,
    line: { color: '#c4c4c4', width: 1 },
    marker: { symbol: 'x', size: 10, color: '#ff0000', line: { width: 0 } } },

  { x: rt.x, y: rt.y, name: 'ratio', mode: 'markers', type: 'scatter', xaxis: 'x3', yaxis: 'y3', showlegend: false,
    marker: { symbol: 'circle', size: 10, color: '#000080', line: { color: '#ccccec', width: 1 } } }
];

function xax(anchor) {
  return {
    anchor: anchor, domain: [0, 1], type: 'date',
    range: [clock(35), clock(775.4)],
    tick0: clock(60), dtick: 3600000, tickformat: '%H:%M',
    showline: true, linecolor: '#000', linewidth: 1, mirror: false,
    ticks: 'outside', ticklen: 5, tickcolor: '#000', showgrid: false, zeroline: false,
    tickfont: { family: F, size: 15, color: '#000' }
  };
}
function yax(anchor, dom, range, vals, text, minor) {
  return {
    anchor: anchor, domain: dom, range: range,
    tickmode: 'array', tickvals: vals, ticktext: text,
    showline: true, linecolor: '#000', linewidth: 1,
    ticks: 'outside', ticklen: 4, tickcolor: '#000',
    showgrid: true, gridcolor: '#8f8f8f', gridwidth: 1, zeroline: false,
    minor: { dtick: minor.d, tick0: 0, showgrid: true, gridcolor: minor.c, gridwidth: 1, ticks: '' },
    tickfont: { family: F, size: 15, color: '#000' }
  };
}

var shapes = [];
// half-unit guide lines in the middle panel
[-0.5, 0.5, 1.5, 2.5].forEach(function (v) {
  shapes.push({ type: 'line', xref: 'x2 domain', yref: 'y2', x0: 0, x1: 1, y0: v, y1: v,
    line: { color: '#c8c8c8', width: 1 }, layer: 'below' });
});
shapes.push({ type: 'rect', xref: 'x3', yref: 'y3', x0: clock(bandFrom), x1: clock(bandTo), y0: ratioLow, y1: ratioHigh,
  fillcolor: 'rgba(255,0,0,0.06)', line: { width: 0 }, layer: 'below' });
[ratioLow, ratioHigh].forEach(function (v) {
  shapes.push({ type: 'line', xref: 'x3', yref: 'y3', x0: clock(bandFrom), x1: clock(bandTo), y0: v, y1: v,
    line: { color: '#c0282a', width: 1.3, dash: 'dash' }, layer: 'above' });
});
// legend frame
shapes.push({ type: 'rect', xref: 'paper', yref: 'paper', x0: 0.01574, x1: 0.1469, y0: 0.8043, y1: 0.9357,
  fillcolor: '#ffffff', line: { color: '#333333', width: 1 }, layer: 'above' });

var layout = {
  width: 1400, height: 700,
  margin: { l: 44, r: 22, t: 0, b: 0 },
  paper_bgcolor: '#fff', plot_bgcolor: '#fff',
  font: { family: F, color: '#000' },
  title: { text: 'DIQ - 2025-11-11', x: 0.5, xref: 'paper', y: 0.9643, yanchor: 'middle', font: { family: F, size: 15, color: '#000' } },
  xaxis: xax('y'), xaxis2: xax('y2'), xaxis3: xax('y3'),
  yaxis: yax('x', [0.5171, 0.9429], [0.233, 5.2], topTicks, topTicks.map(String), { d: 0.2, c: '#dadada' }),
  yaxis2: yax('x2', [0.2786, 0.4343], [-1.32, 2.5], midTicks, midLabels, { d: 0.1, c: '#f0f0f0' }),
  yaxis3: yax('x3', [0.0414, 0.1971], [-0.18, 1.93], lowTicks, lowLabels, { d: 0.05, c: '#ececec' }),
  showlegend: true,
  legend: { x: 0.0142, y: 0.9243, xanchor: 'left', yanchor: 'top', bgcolor: 'rgba(0,0,0,0)', borderwidth: 0,
    tracegroupgap: 5, font: { family: F, size: 13, color: '#000' }, traceorder: 'grouped' },
  legend2: { x: 0.0855, y: 0.9243, xanchor: 'left', yanchor: 'top', bgcolor: 'rgba(0,0,0,0)', borderwidth: 0,
    tracegroupgap: 5, font: { family: F, size: 13, color: '#000' }, traceorder: 'grouped' },
  annotations: [
    { text: 'Guider — WFS', xref: 'paper', yref: 'paper', x: 0.5, y: 0.4557, yanchor: 'middle', showarrow: false,
      font: { family: F, size: 14, color: '#000' } },
    { text: 'BLIQ+HO+LO — BLIQ+HO', xref: 'paper', yref: 'paper', x: 0.5, y: 0.2186, yanchor: 'middle', showarrow: false,
      font: { family: F, size: 14, color: '#000' } }
  ],
  shapes: shapes
};

Plotly.newPlot('myDiv', data, layout, { displayModeBar: false, staticPlot: true });
</script>
</body>
</html>
